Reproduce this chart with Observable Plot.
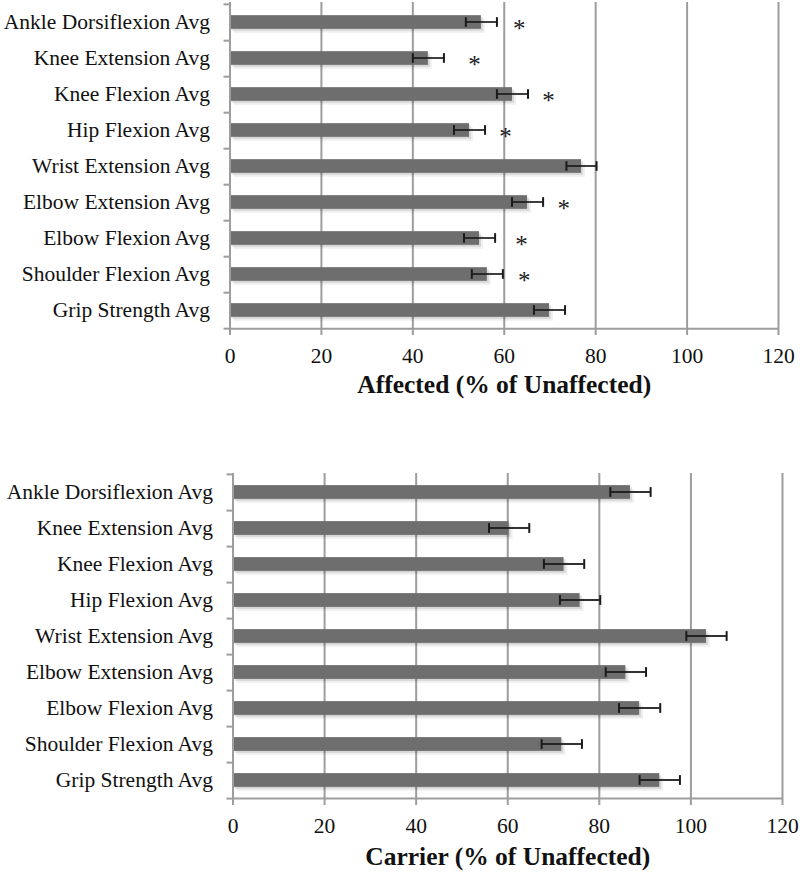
<!DOCTYPE html>
<html>
<head>
<meta charset="utf-8">
<script src="https://cdn.jsdelivr.net/npm/d3@7"></script>
<script src="https://cdn.jsdelivr.net/npm/@observablehq/plot@0.6"></script>
<style>
  html, body { margin: 0; padding: 0; background: #fff; }
  #charts svg { display: block; }
</style>
</head>
<body>
<div id="charts"></div>
<script>
const categories = [
  "Ankle Dorsiflexion Avg",
  "Knee Extension Avg",
  "Knee Flexion Avg",
  "Hip Flexion Avg",
  "Wrist Extension Avg",
  "Elbow Extension Avg",
  "Elbow Flexion Avg",
  "Shoulder Flexion Avg",
  "Grip Strength Avg"
];
const affectedValues = [55.0, 43.4, 61.8, 52.4, 76.9, 65.1, 54.6, 56.3, 69.9];
const affectedErrors = [3.4, 3.4, 3.4, 3.4, 3.3, 3.4, 3.4, 3.4, 3.4];
const affectedStarX  = [63.3, 53.5, 69.7, 60.3, null, 73.0, 63.8, 64.4, null];
const carrierValues  = [86.8, 60.3, 72.3, 75.8, 103.4, 85.8, 88.8, 71.8, 93.2];
const carrierErrors  = [4.4, 4.4, 4.4, 4.4, 4.4, 4.4, 4.5, 4.4, 4.4];
const carrierStarX   = [null, null, null, null, null, null, null, null, null];
const xTicks = [0, 20, 40, 60, 80, 100, 120];
const affectedTitle = "Affected (% of Unaffected)";
const carrierTitle = "Carrier (% of Unaffected)";

const GRID = "#9d9d9d";
const BAR = "#6e6e6e";

function makeChart({values, errors, stars, title, height, marginTop, marginBottom, marginLeft, marginRight, titleDy}) {
  const rows = categories.map((c, i) => ({cat: c, v: values[i], e: errors[i], s: stars[i]}));
  const starRows = rows.filter(d => d.s != null);
  const step = (height - marginTop - marginBottom) / categories.length;
  const barInset = (step - 14) / 2;
  const capInset = (step - 10) / 2;
  const lineInset = (step - 2) / 2;
  return Plot.plot({
    width: 800,
    height,
    marginTop, marginBottom, marginLeft, marginRight,
    style: {fontFamily: "'Liberation Serif', 'Times New Roman', serif", background: "#fff", overflow: "visible", color: "#111"},
    x: {domain: [0, 120], ticks: xTicks},
    y: {domain: categories, padding: 0},
    marks: [
      Plot.gridX(xTicks, {stroke: GRID, strokeOpacity: 1, strokeWidth: 2}),
      // soft shadow
      Plot.barX(rows, {y: "cat", x: "v", fill: "#000", fillOpacity: 0.06, insetTop: barInset, insetBottom: barInset, dx: 4, dy: 4}),
      Plot.barX(rows, {y: "cat", x: "v", fill: "#000", fillOpacity: 0.10, insetTop: barInset, insetBottom: barInset, dx: 2, dy: 2}),
      Plot.barX(rows, {y: "cat", x: "v", fill: BAR, insetTop: barInset, insetBottom: barInset}),
      // error bars
      Plot.barX(rows, {y: "cat", x1: d => d.v - d.e, x2: d => d.v + d.e, fill: "#1a1a1a", insetTop: lineInset, insetBottom: lineInset}),
      Plot.tickX(rows, {y: "cat", x: d => d.v - d.e, stroke: "#1a1a1a", strokeWidth: 2, insetTop: capInset, insetBottom: capInset}),
      Plot.tickX(rows, {y: "cat", x: d => d.v + d.e, stroke: "#1a1a1a", strokeWidth: 2, insetTop: capInset, insetBottom: capInset}),
      // significance markers
      Plot.text(starRows, {y: "cat", x: "s", text: () => "*", fontSize: 25, dy: 6, fill: "#222"}),
      // axis lines
      Plot.ruleX([0], {stroke: GRID, strokeWidth: 2}),
      Plot.ruleY([categories[categories.length - 1]], {stroke: GRID, strokeWidth: 2, dy: step / 2}),
      // category boundary ticks
      Plot.ruleY(categories, {x1: 0, x2: 0, insetLeft: -6, stroke: GRID, strokeWidth: 2, dy: step / 2}),
      Plot.ruleY([categories[0]], {x1: 0, x2: 0, insetLeft: -6, stroke: GRID, strokeWidth: 2, dy: -step / 2}),
      Plot.axisY({tickSize: 0, tickPadding: 20, fontSize: 21.5, fill: "#111", label: null}),
      Plot.axisX({ticks: xTicks, tickSize: 6, tickPadding: 12, fontSize: 21.5, stroke: GRID, strokeWidth: 2, fill: "#111", label: null}),
      Plot.text([title], {frameAnchor: "bottom", text: d => d, dy: titleDy, fontSize: 25.5, fontWeight: "bold", fill: "#111"})
    ]
  });
}

const host = document.getElementById("charts");
host.appendChild(makeChart({
  values: affectedValues, errors: affectedErrors, stars: affectedStarX, title: affectedTitle,
  height: 410, marginTop: 2, marginBottom: 81, marginLeft: 229.5, marginRight: 22, titleDy: 63
}));
host.appendChild(makeChart({
  values: carrierValues, errors: carrierErrors, stars: carrierStarX, title: carrierTitle,
  height: 463, marginTop: 63, marginBottom: 74, marginLeft: 232.5, marginRight: 18, titleDy: 65
}));
</script>
</body>
</html>
